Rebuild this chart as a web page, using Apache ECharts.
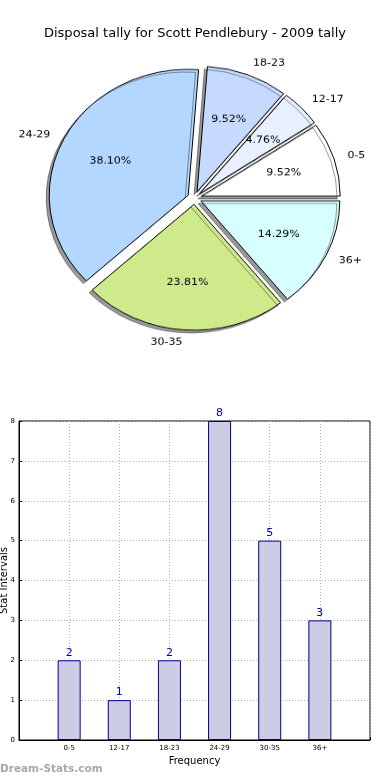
<!DOCTYPE html>
<html>
<head>
<meta charset="utf-8">
<script src="https://cdn.jsdelivr.net/npm/echarts@6/dist/echarts.min.js"></script>
<style>
html,body{margin:0;padding:0;background:#fff;}
#main{position:absolute;left:0;top:0;width:390px;height:780px;}
#pie{position:absolute;left:0;top:0;width:390px;height:400px;transform:scaleY(0.906);transform-origin:50% 198px;z-index:2;}
</style>
</head>
<body>
<div id="main"></div>
<div id="pie"></div>
<script>
var titleText = 'Disposal tally for Scott Pendlebury - 2009 tally';
var categories = ['0-5', '12-17', '18-23', '24-29', '30-35', '36+'];
var counts = [2, 1, 2, 8, 5, 3];
var sliceColors = ['#ffffff', '#e8f0ff', '#c6d9ff', '#b4d7ff', '#cfea8b', '#d8ffff'];
var yTicks = [0, 1, 2, 3, 4, 5, 6, 7, 8];
var yName = 'Stat Intervals';
var xName = 'Frequency';
var watermark = 'Dream-Stats.com';

var total = counts.reduce(function (a, b) { return a + b; }, 0);
var FONT = 'DejaVu Sans';

// ---------- Pie ----------
var pieChart = echarts.init(document.getElementById('pie'), null, {renderer: 'canvas'});
var pieData = categories.map(function (c, i) {
  return {name: c, value: counts[i], selected: true, itemStyle: {color: sliceColors[i]}};
});
var pctData = categories.map(function (c, i) {
  return {name: c, value: counts[i], selected: true};
});
var R = 139;
pieChart.setOption({
  animation: false,
  series: [{
    type: 'pie',
    center: [194.5, 198],
    radius: R,
    startAngle: 0,
    clockwise: false,
    selectedMode: 'multiple',
    selectedOffset: 7,
    avoidLabelOverlap: false,
    data: pieData,
    itemStyle: {
      borderColor: '#000', borderWidth: 1,
      shadowColor: 'rgba(0,0,0,0.4)', shadowBlur: 0, shadowOffsetX: -3, shadowOffsetY: 3
    },
    label: {
      show: true, position: 'outside', color: '#000', fontFamily: FONT, fontSize: 11,
      distanceToLabelLine: 0, formatter: '{b}'
    },
    labelLine: {show: false, length: 14, length2: 0},
    emphasis: {disabled: true},
    select: {disabled: false, itemStyle: {borderColor: '#000', borderWidth: 1}}
  }, {
    type: 'pie',
    center: [194.5, 198],
    radius: R * 1.2,
    startAngle: 0,
    clockwise: false,
    selectedMode: 'multiple',
    selectedOffset: 7,
    silent: true,
    data: pctData,
    itemStyle: {color: 'rgba(0,0,0,0)', borderWidth: 0},
    label: {
      show: true, position: 'inside', color: '#000', fontFamily: FONT, fontSize: 11,
      formatter: function (p) { return (p.value / total * 100).toFixed(2) + '%'; }
    },
    labelLine: {show: false},
    emphasis: {disabled: true},
    select: {itemStyle: {color: 'rgba(0,0,0,0)', borderWidth: 0}}
  }]
});

// ---------- Title + Bar ----------
var chart = echarts.init(document.getElementById('main'), null, {renderer: 'canvas'});
chart.setOption({
  animation: false,
  title: {
    text: titleText, left: 'center', top: 22,
    textStyle: {fontFamily: FONT, fontSize: 13, fontWeight: 'normal', color: '#000'}
  },
  graphic: [{
    type: 'text', left: 0, top: 764,
    style: {text: watermark, fill: '#a8a8a8', font: 'bold 10.5px "DejaVu Sans"'}
  }],
  grid: {
    left: 19, right: 20, top: 421, bottom: 40,
    outerBoundsMode: 'none', containLabel: false,
    show: true, borderColor: '#000', borderWidth: 1, backgroundColor: 'transparent'
  },
  xAxis: {
    type: 'value', min: -1, max: 6, interval: 1,
    name: xName, nameLocation: 'middle', nameGap: 16, nameMoveOverlap: false,
    nameTextStyle: {fontFamily: FONT, fontSize: 10, color: '#000'},
    axisLine: {show: true, onZero: false, lineStyle: {color: '#000'}},
    axisTick: {show: true, length: 3, inside: true, lineStyle: {color: '#000'}},
    axisLabel: {
      fontFamily: FONT, fontSize: 7, color: '#000', margin: 5,
      formatter: function (v) { return categories[v] !== undefined ? categories[v] : ''; }
    },
    splitLine: {show: true, lineStyle: {color: '#b0b0b0', type: [1, 2], width: 1}}
  },
  yAxis: {
    type: 'value', min: yTicks[0], max: yTicks[yTicks.length - 1], interval: 1,
    name: yName, nameLocation: 'middle', nameGap: 9.5, nameRotate: 90, nameMoveOverlap: false,
    nameTextStyle: {fontFamily: FONT, fontSize: 10, color: '#000'},
    axisLine: {show: true, onZero: false, lineStyle: {color: '#000'}},
    axisTick: {show: true, length: 3, inside: true, lineStyle: {color: '#000'}},
    axisLabel: {fontFamily: FONT, fontSize: 7, color: '#000', margin: 4},
    splitLine: {show: true, lineStyle: {color: '#b0b0b0', type: [1, 2], width: 1}}
  },
  series: [{
    type: 'bar',
    barWidth: 23,
    data: categories.map(function (c, i) { return [i, counts[i]]; }),
    itemStyle: {color: '#ccccE4', borderColor: '#00008b', borderWidth: 1},
    label: {
      show: true, position: 'top', distance: 2,
      color: '#0000a0', fontFamily: FONT, fontSize: 11,
      formatter: function (p) { return p.value[1]; }
    },
    emphasis: {disabled: true}
  }]
});
</script>
</body>
</html>
